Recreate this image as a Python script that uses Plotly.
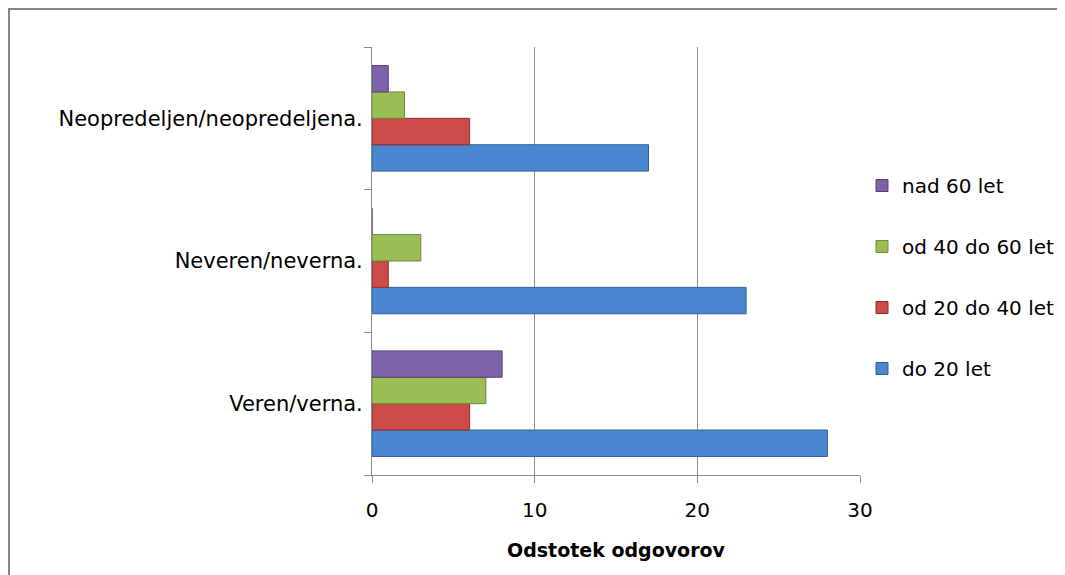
import plotly.graph_objects as go

categories = ["Veren/verna.", "Neveren/neverna.", "Neopredeljen/neopredeljena."]
series_names = ["do 20 let", "od 20 do 40 let", "od 40 do 60 let", "nad 60 let"]
do_20 = [28, 23, 17]
od_20_40 = [6, 1, 6]
od_40_60 = [7, 3, 2]
nad_60 = [8, 0, 1]
x_ticks = [0, 10, 20, 30]

values = [do_20, od_20_40, od_40_60, nad_60]
fills = ["#4a86cf", "#cc4a47", "#9bbd55", "#7e62a8"]
edges = ["#2f5f98", "#8e2f2d", "#6d8a35", "#56407a"]

FONT = "DejaVu Sans"

fig = go.Figure()
for i, (name, vals, fc, ec) in enumerate(zip(series_names, values, fills, edges)):
    fig.add_trace(go.Bar(
        y=categories, x=vals, name=name, orientation="h",
        marker=dict(color=fc, line=dict(color=ec, width=1)),
        legendgroup=name, legendrank=100 - i,
    ))

# page body has an 8px margin; coordinates below are figure pixels
L, R, T, B = 364, 213, 39, 108
W, H = 1065, 575
pw, ph = W - L - R, H - T - B

def py(px_from_top):
    return (T + ph - px_from_top) / ph

def px(px_from_left):
    return (px_from_left - L) / pw

fig.update_layout(
    width=W, height=H,
    margin=dict(l=L, r=R, t=T, b=B, pad=0),
    paper_bgcolor="white", plot_bgcolor="white",
    barmode="group", bargap=0.26, bargroupgap=0,
    font=dict(family=FONT, size=19, color="#000000"),
    showlegend=True,
    legend=dict(
        traceorder="grouped", tracegroupgap=32,
        x=px(854), xanchor="left",
        y=py(158), yanchor="top",
        font=dict(family=FONT, size=20, color="#000000"),
        itemwidth=30, bgcolor="rgba(0,0,0,0)",
    ),
    xaxis=dict(
        range=[0, 30], tickvals=x_ticks, ticktext=[str(v) for v in x_ticks],
        showgrid=True, gridcolor="#8c8c8c", gridwidth=1,
        zeroline=False, showline=True, linecolor="#8c8c8c", linewidth=1,
        ticks="outside", ticklen=7, tickcolor="#8c8c8c",
        tickfont=dict(family=FONT, size=20),
        ticklabelstandoff=10,
        title=dict(text="<b>Odstotek odgovorov</b>", font=dict(family=FONT, size=19), standoff=22),
    ),
    yaxis=dict(
        categoryorder="array", categoryarray=categories,
        showline=True, linecolor="#8c8c8c", linewidth=1,
        ticks="outside", ticklen=7, tickcolor="#8c8c8c",
        tickson="boundaries", showgrid=False, zeroline=False,
        tickfont=dict(family=FONT, size=21),
        ticklabelstandoff=4,
    ),
    shapes=[dict(
        type="rect", xref="paper", yref="paper",
        x0=px(1), x1=px(1075),
        y0=py(590), y1=py(1),
        line=dict(color="#868686", width=2), fillcolor="rgba(0,0,0,0)", layer="below",
    )],
)

fig.write_html("out.html")
